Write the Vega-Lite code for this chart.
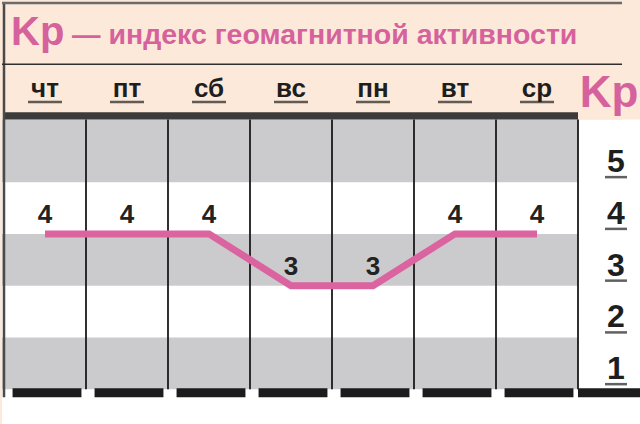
{
  "$schema": "https://vega.github.io/schema/vega-lite/v6.json",
  "width": 640,
  "height": 424,
  "autosize": {"type": "fit", "contains": "padding"},
  "padding": 0,
  "background": "#fde9da",
  "data": {
    "values": [
      {"day": "чт", "kp": 4},
      {"day": "пт", "kp": 4},
      {"day": "сб", "kp": 4},
      {"day": "вс", "kp": 3},
      {"day": "пн", "kp": 3},
      {"day": "вт", "kp": 4},
      {"day": "ср", "kp": 4}
    ]
  },
  "layer": [
    {
      "data": {"values": [{}]},
      "mark": {"type": "rect", "color": "#ffffff"},
      "encoding": {
        "y": {"datum": 0.327, "type": "quantitative", "scale": {"domain": [0.327, 8.48], "nice": false, "zero": false}},
        "y2": {"datum": 6.21}
      }
    },
    {
      "data": {"values": [{}]},
      "mark": {"type": "rect", "color": "#cbcbcd"},
      "encoding": {"y": {"datum": 1, "type": "quantitative"}, "y2": {"datum": 2}}
    },
    {
      "data": {"values": [{}]},
      "mark": {"type": "rect", "color": "#cbcbcd"},
      "encoding": {"y": {"datum": 3, "type": "quantitative"}, "y2": {"datum": 4}}
    },
    {
      "data": {"values": [{}]},
      "mark": {"type": "rect", "color": "#cbcbcd"},
      "encoding": {"y": {"datum": 5, "type": "quantitative"}, "y2": {"datum": 6.21}}
    },
    {
      "data": {"values": [{}]},
      "mark": {"type": "rect", "color": "#ffffff"},
      "encoding": {
        "x": {
          "datum": "Kp",
          "type": "nominal",
          "scale": {
            "domain": ["чт", "пт", "сб", "вс", "пн", "вт", "ср", "Kp"],
            "range": [2, 658],
            "paddingInner": 0,
            "paddingOuter": 0
          }
        },
        "y": {"datum": 0.327, "type": "quantitative"},
        "y2": {"datum": 6.21}
      }
    },
    {
      "mark": {"type": "rect", "color": "#3b3b3b"},
      "encoding": {
        "x": {"field": "day", "type": "nominal"},
        "y": {"datum": 6.21, "type": "quantitative"},
        "y2": {"datum": 6.35}
      }
    },
    {
      "mark": {"type": "rule", "color": "#1a1a1a", "strokeWidth": 1.8},
      "encoding": {
        "x": {"field": "day", "type": "nominal", "bandPosition": 1},
        "y": {"datum": 1.0, "type": "quantitative"},
        "y2": {"datum": 6.21}
      }
    },
    {
      "data": {"values": [{}]},
      "mark": {"type": "rule", "color": "#4a4a4a", "strokeWidth": 2.5},
      "encoding": {
        "x": {"datum": "чт", "type": "nominal", "bandPosition": 0},
        "y": {"datum": 0.846, "type": "quantitative"},
        "y2": {"datum": 8.48}
      }
    },
    {
      "data": {"values": [{}]},
      "mark": {"type": "rule", "color": "#6b6b6b", "strokeWidth": 2.5},
      "encoding": {"y": {"datum": 8.46, "type": "quantitative"}}
    },
    {
      "data": {"values": [{}]},
      "mark": {"type": "rule", "color": "#2e2e2e", "strokeWidth": 1.6},
      "encoding": {"y": {"datum": 7.278, "type": "quantitative"}}
    },
    {
      "mark": {"type": "bar", "color": "#1c1c1c", "width": {"band": 0.84}, "xOffset": 2},
      "encoding": {
        "x": {"field": "day", "type": "nominal"},
        "y": {"datum": 0.846, "type": "quantitative"},
        "y2": {"datum": 1.019}
      }
    },
    {
      "data": {"values": [{}]},
      "mark": {"type": "rect", "color": "#1c1c1c"},
      "encoding": {
        "x": {"datum": "Kp", "type": "nominal"},
        "y": {"datum": 0.846, "type": "quantitative"},
        "y2": {"datum": 1.019}
      }
    },
    {
      "mark": {"type": "line", "color": "#db63a0", "strokeWidth": 7, "strokeJoin": "miter"},
      "encoding": {
        "x": {"field": "day", "type": "nominal"},
        "y": {"field": "kp", "type": "quantitative"}
      }
    },
    {
      "mark": {"type": "text", "baseline": "alphabetic", "dy": -11, "fontSize": 26, "fontWeight": "bold", "font": "Liberation Sans", "color": "#222222"},
      "encoding": {
        "x": {"field": "day", "type": "nominal"},
        "y": {"field": "kp", "type": "quantitative"},
        "text": {"field": "kp", "type": "quantitative"}
      }
    },
    {
      "mark": {"type": "text", "baseline": "alphabetic", "fontSize": 26, "fontWeight": "bold", "font": "Liberation Sans", "color": "#1e1e1e"},
      "encoding": {
        "x": {"field": "day", "type": "nominal"},
        "y": {"datum": 6.653, "type": "quantitative"},
        "text": {"field": "day", "type": "nominal"}
      }
    },
    {
      "mark": {"type": "tick", "size": 34, "thickness": 2.5, "color": "#1e1e1e"},
      "encoding": {
        "x": {"field": "day", "type": "nominal"},
        "y": {"datum": 6.548, "type": "quantitative"}
      }
    },
    {
      "data": {"values": [{}]},
      "mark": {"type": "text", "text": "Kp", "baseline": "alphabetic", "dx": -10, "fontSize": 44, "fontWeight": "bold", "font": "Liberation Sans", "color": "#d6629d"},
      "encoding": {
        "x": {"datum": "Kp", "type": "nominal"},
        "y": {"datum": 6.461, "type": "quantitative"}
      }
    },
    {
      "data": {"values": [{"level": 5}, {"level": 4}, {"level": 3}, {"level": 2}, {"level": 1}]},
      "layer": [
        {
          "mark": {"type": "text", "baseline": "alphabetic", "dy": -10, "dx": -3, "fontSize": 32, "fontWeight": "bold", "font": "Liberation Sans", "color": "#1e1e1e"},
          "encoding": {
            "x": {"datum": "Kp", "type": "nominal"},
            "y": {"field": "level", "type": "quantitative"},
            "text": {"field": "level", "type": "quantitative"}
          }
        },
        {
          "mark": {"type": "tick", "size": 22, "thickness": 2.5, "yOffset": -5, "xOffset": -3, "color": "#1e1e1e"},
          "encoding": {
            "x": {"datum": "Kp", "type": "nominal"},
            "y": {"field": "level", "type": "quantitative"}
          }
        }
      ]
    },
    {
      "data": {"values": [{}]},
      "layer": [
        {
          "mark": {"type": "text", "text": "Kp", "align": "left", "baseline": "alphabetic", "dx": 7, "fontSize": 40, "fontWeight": "bold", "font": "Liberation Sans", "color": "#d6629d"},
          "encoding": {
            "x": {"datum": "чт", "type": "nominal", "bandPosition": 0},
            "y": {"datum": 7.643, "type": "quantitative"}
          }
        },
        {
          "mark": {"type": "text", "text": "— индекс геомагнитной активности", "align": "left", "baseline": "alphabetic", "dx": 68, "fontSize": 28.5, "fontWeight": "bold", "font": "Liberation Sans", "color": "#d6629d"},
          "encoding": {
            "x": {"datum": "чт", "type": "nominal", "bandPosition": 0},
            "y": {"datum": 7.672, "type": "quantitative"}
          }
        }
      ]
    }
  ],
  "config": {
    "view": {"stroke": null},
    "axis": {"disable": true}
  }
}
